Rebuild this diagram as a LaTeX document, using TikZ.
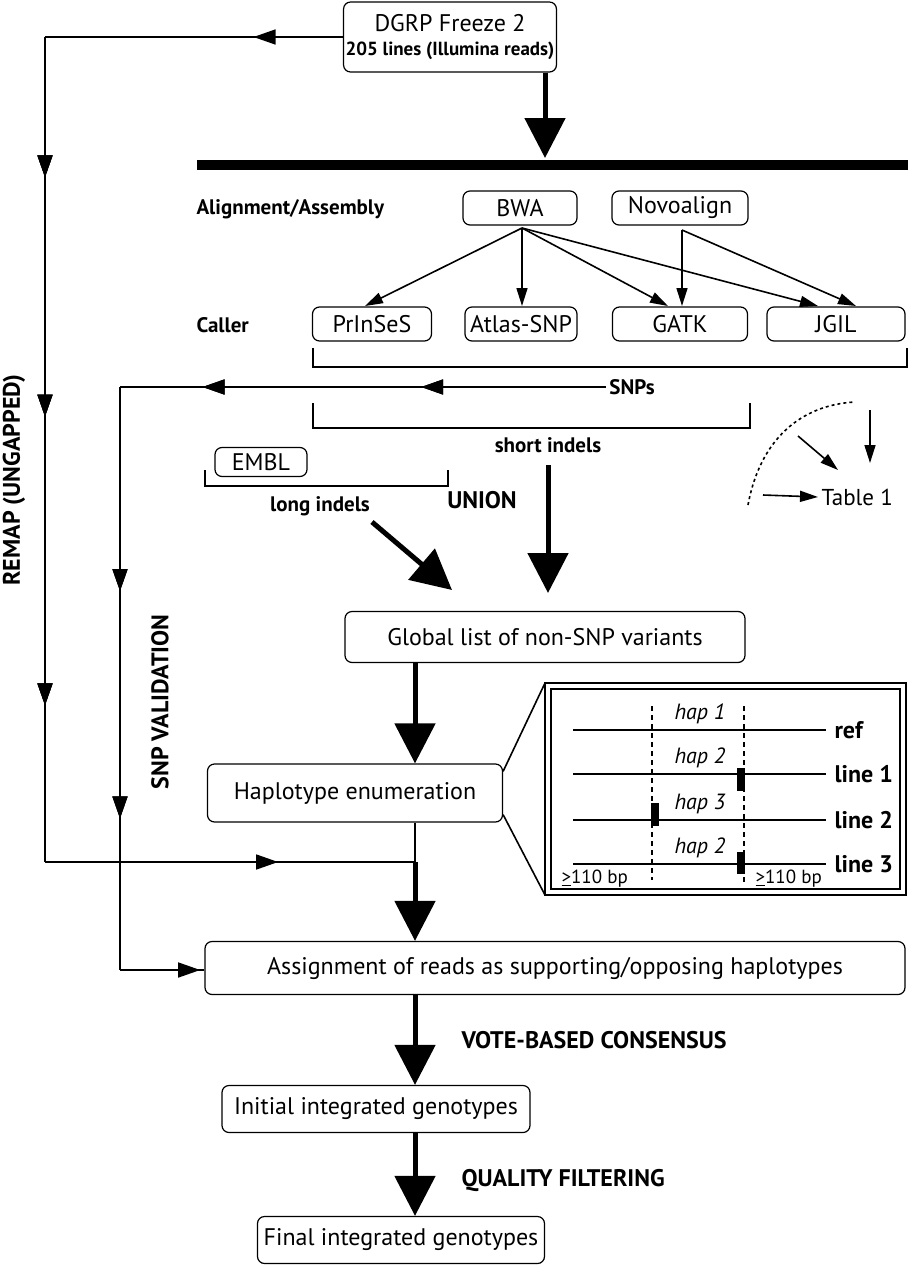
\documentclass[tikz,border=0pt]{standalone}
\usepackage{fontspec}
\setmainfont{PT Sans}
\usetikzlibrary{arrows.meta,decorations.markings}
\begin{document}
\begin{tikzpicture}[x=1pt,y=-1pt,
 box/.style={draw,line width=1.2pt,rounded corners=7pt,minimum height=#1,inner xsep=2pt,font=\fontsize{24}{27}\selectfont},
 box/.default=34pt,
 lbl/.style={font=\bfseries\fontsize{21}{24}\selectfont},
 blbl/.style={font=\bfseries\fontsize{24}{27}\selectfont},
 big/.style={line width=5pt,-{Triangle[width=40pt,length=40pt]}},
 thin/.style={line width=1.6pt},
 ar/.style={line width=1.6pt,-{Triangle[width=11pt,length=18pt]}},
 mk/.style={decoration={markings,mark=at position #1 with {\arrow{Triangle[width=15pt,length=22pt]}}},postaction={decorate}},
 hl/.style={font=\itshape\fontsize{22}{25}\selectfont}
]
\useasboundingbox (0,0) rectangle (913,1280);
% boxes
\node[box=70pt,minimum width=210pt,align=center] (dgrp) at (450,37) {DGRP Freeze 2\\[-3pt]\textbf{\fontsize{19}{22}\selectfont 205 lines (Illumina reads)}};
\node[box,minimum width=114pt] (bwa) at (520,208) {BWA};
\node[box,minimum width=136pt] (novo) at (680,208) {Novoalign};
\node[box,minimum width=119pt] (pri) at (372,324) {PrInSeS};
\node[box,minimum width=112pt] (atl) at (521,324) {Atlas-SNP};
\node[box,minimum width=135pt] (gatk) at (680,324) {GATK};
\node[box,minimum width=138pt] (jgil) at (836,324) {JGIL};
\node[box=29pt,minimum width=92pt] (embl) at (261,462) {EMBL};
\node[box=51pt,minimum width=400pt] (glob) at (545,637) {Global list of non-SNP variants};
\node[box=58pt,minimum width=295pt] (hapl) at (355,793) {Haplotype enumeration};
\node[box=53pt,minimum width=700pt] (assign) at (555,968) {Assignment of reads as supporting/opposing haplotypes};
\node[box=47pt,minimum width=308pt] (init) at (376,1109) {Initial integrated genotypes};
\node[box=47pt,minimum width=287pt] (final) at (401,1240) {Final integrated genotypes};
% labels
\node[lbl,anchor=west] (la) at (193,209) {Alignment/Assembly};
\node[lbl,anchor=west] (lc) at (193,325) {Caller};
\node[lbl] (snps) at (632,387) {SNPs};
\node[lbl] (sind) at (548,445) {short indels};
\node[lbl] (lind) at (320,506) {long indels};
\node[blbl] (union) at (482,500) {UNION};
\node[blbl,anchor=west] (vote) at (458,1040) {VOTE-BASED CONSENSUS};
\node[blbl,anchor=west] (qual) at (458,1180) {QUALITY FILTERING};
\node[blbl,rotate=90] (remap) at (14,480) {REMAP (UNGAPPED)};
\node[blbl,rotate=90] (snpv) at (160,702) {SNP VALIDATION};
\node[font=\fontsize{23}{26}\selectfont,anchor=west] (tab) at (818,497) {Table 1};
% top
\draw[big] (dgrp.south -| 545,0) -- (545,158);
\fill (197,160) rectangle (908,170);
% remap loop
\coordinate (r1) at (45,37); \coordinate (r2) at (45,862); \coordinate (r3) at (415,862);
\draw[thin,mk=0.3] (dgrp.west) -- (r1);
\draw[thin,mk=0.17,mk=0.46,mk=0.81] (r1) -- (r2);
\draw[thin,mk=0.63] (r2) -- (r3);
\draw[thin] (hapl.south -| r3) -- (r3);
\draw[big] (r3) -- (assign.north -| r3);
% aligner arrows
\coordinate (b0) at (522,228); \coordinate (n0) at (682,230);
\draw[ar] (b0) -- (365,306);
\draw[ar] (b0) -- (522,306);
\draw[ar] (b0) -- (668,306);
\draw[ar] (b0) -- (818,306);
\draw[ar] (n0) -- (682,306);
\draw[ar] (n0) -- (856,306);
% brackets
\draw[thin] (313,348) -- (313,367) -- (907,367) -- (907,348);
\draw[thin] (313,403) -- (313,428) -- (750,428) -- (750,403);
\draw[thin] (205,470) -- (205,486) -- (448,486) -- (448,470);
% SNP validation loop
\coordinate (s1) at (120,387); \coordinate (s2) at (120,970);
\draw[thin,mk=0.38,mk=0.83] (snps.west) -- (s1);
\draw[thin,mk=0.35,mk=0.74] (s1) -- (s2);
\draw[thin,mk=0.95] (s2) -- (assign.west |- s2);
% union arrows
\draw[big] (372,522) -- (452,590);
\draw[big] (548,465) -- (548,593);
\draw[big] (glob.south -| 415,0) -- (hapl.north -| 415,0);
\draw[big] (assign.south -| 415,0) -- (init.north -| 415,0);
\draw[big] (init.south -| 415,0) -- (final.north -| 415,0);
% table 1 sketch
\draw[dashed,thin] (748,505) .. controls (760,440) and (800,405) .. (855,402);
\draw[ar] (763,495) -- (tab.west);
\draw[ar] (798,436) -- (838,470);
\draw[ar] (870,410) -- (870,463);
% inset
\draw[line width=1.5pt] (545,683) rectangle (906,895);
\draw[line width=1.5pt] (551,689) rectangle (900,889);
\coordinate (i1) at (545,683); \coordinate (i2) at (545,895);
\draw[thin] (hapl.north east) ++(0,8) -- (i1);
\draw[thin] (hapl.south east) ++(0,-8) -- (i2);
\foreach \y/\n/\h in {730/ref/1,774/line 1/2,820/line 2/3,864/line 3/2}{
 \draw[thin] (573,\y) -- (826,\y);
 \node[lbl,font=\bfseries\fontsize{24}{27}\selectfont,anchor=west] at (831,\y) {\n};
 \node[hl] at (700,\y-16) {hap \h};
}
\draw[thin,dashed,dash pattern=on 5pt off 4pt] (652,706) -- (652,880);
\draw[thin,dashed,dash pattern=on 5pt off 4pt] (744,706) -- (744,884);
\fill (737,768) rectangle (745,791);
\fill (651,803) rectangle (659,826);
\fill (737,852) rectangle (745,874);
\node[font=\fontsize{19}{22}\selectfont,anchor=west] (g1) at (558,879) {\underline{>}110 bp};
\node[font=\fontsize{19}{22}\selectfont,anchor=west] (g2) at (752,879) {\underline{>}110 bp};
\end{tikzpicture}
\end{document}
